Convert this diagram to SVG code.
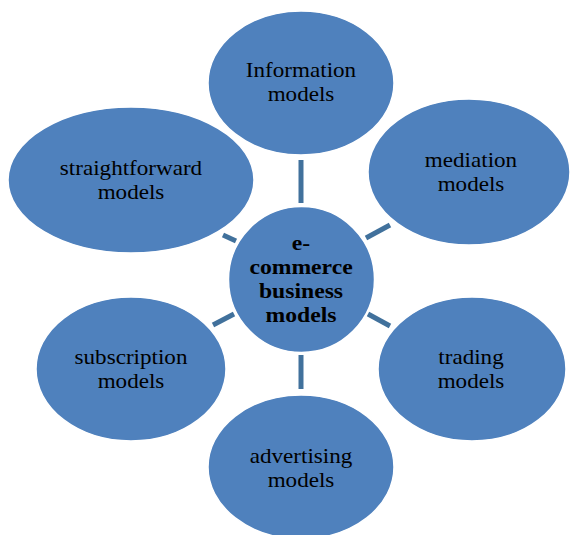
<svg xmlns="http://www.w3.org/2000/svg" width="571" height="535" viewBox="0 0 571 535">
<style>
.n{fill:#4F81BD;stroke:#FFFFFF;stroke-width:1.5}
.t{font-family:"Liberation Serif","Times New Roman",serif;font-size:21px;fill:#000;text-anchor:middle}
.b{font-weight:bold;font-size:21.5px}
.c{stroke:#41719C;stroke-width:5;fill:none}
</style>
<rect width="571" height="535" fill="#fff"/>
<g id="connectors">
<line class="c" x1="301" y1="160" x2="301" y2="203"/>
<line class="c" x1="301" y1="355" x2="301" y2="389"/>
<line class="c" x1="223" y1="235" x2="236" y2="241"/>
<line class="c" x1="366" y1="238" x2="390" y2="225"/>
<line class="c" x1="213" y1="325" x2="234" y2="314"/>
<line class="c" x1="368" y1="314" x2="390" y2="326"/>
</g>
<g id="information">
<ellipse class="n" cx="301" cy="83" rx="93" ry="72"/>
<g transform="translate(301,0) scale(1.1,1)">
<text class="t" x="0" y="77">Information</text>
<text class="t" x="0" y="101">models</text>
</g>
</g>
<g id="straightforward">
<ellipse class="n" cx="131" cy="180" rx="123" ry="73"/>
<g transform="translate(131,0) scale(1.1,1)">
<text class="t" x="0" y="175">straightforward</text>
<text class="t" x="0" y="199">models</text>
</g>
</g>
<g id="mediation">
<ellipse class="n" cx="469" cy="172" rx="101" ry="73"/>
<g transform="translate(471,0) scale(1.1,1)">
<text class="t" x="0" y="167">mediation</text>
<text class="t" x="0" y="191">models</text>
</g>
</g>
<g id="center">
<circle class="n" cx="301.5" cy="279.5" r="73"/>
<g transform="translate(301,0) scale(1.1,1)">
<text class="t b" x="0" y="250">e-</text>
<text class="t b" x="0" y="274">commerce</text>
<text class="t b" x="0" y="298">business</text>
<text class="t b" x="0" y="322">models</text>
</g>
</g>
<g id="subscription">
<ellipse class="n" cx="131" cy="369" rx="95" ry="72"/>
<g transform="translate(131,0) scale(1.1,1)">
<text class="t" x="0" y="364">subscription</text>
<text class="t" x="0" y="388">models</text>
</g>
</g>
<g id="trading">
<ellipse class="n" cx="472" cy="369" rx="94" ry="72"/>
<g transform="translate(471,0) scale(1.1,1)">
<text class="t" x="0" y="364">trading</text>
<text class="t" x="0" y="388">models</text>
</g>
</g>
<g id="advertising">
<ellipse class="n" cx="301" cy="467" rx="93" ry="72"/>
<g transform="translate(301,0) scale(1.1,1)">
<text class="t" x="0" y="463">advertising</text>
<text class="t" x="0" y="487">models</text>
</g>
</g>
</svg>
